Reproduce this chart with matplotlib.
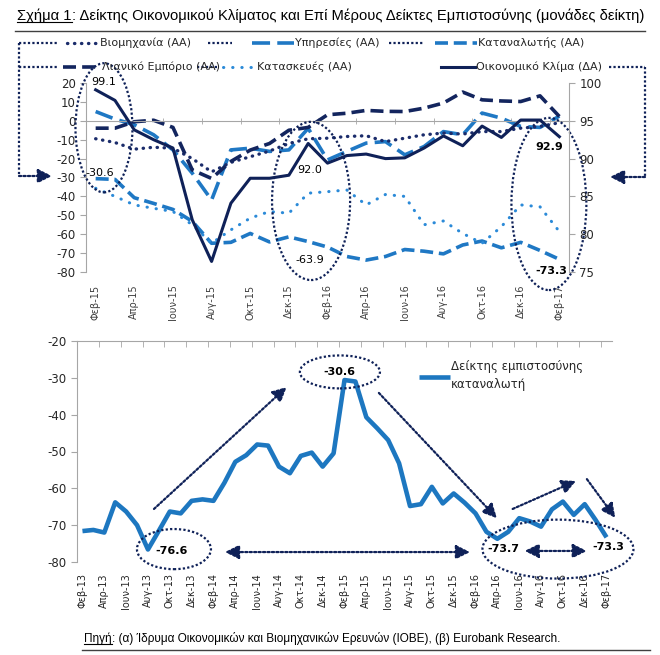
import matplotlib
matplotlib.use("Agg")
import matplotlib.pyplot as plt
from matplotlib.patches import Ellipse, FancyArrowPatch
from matplotlib.lines import Line2D
import numpy as np

# ---- data: top chart (Feb-15 .. Feb-17) ----
top_labels = ["Φεβ-15", "Απρ-15", "Ιουν-15", "Αυγ-15", "Οκτ-15", "Δεκ-15", "Φεβ-16",
              "Απρ-16", "Ιουν-16", "Αυγ-16", "Οκτ-16", "Δεκ-16", "Φεβ-17"]
industry = [-9.5, -11.5, -15, -14, -14.5, -20, -27, -22, -19, -16, -12, -9.5, -9.2,
            -8.3, -7.9, -11, -9.2, -7.4, -6.5, -7, -5.7, -5.7, -3.9, -3, -1]
services = [4.9, 0.9, -2.1, -7.4, -15.4, -27.7, -41.9, -15.4, -14.5, -16.2, -15.4, -4,
            -20.7, -16.2, -11.8, -11, -18, -13.6, -5.7, -7.4, 4.1, 1.4, -3, -3.5, 2.5]
retail = [-3.9, -3.9, -0.5, 0.3, -3.5, -26, -30.5, -21.5, -15.5, -12, -5, -3.5, 3.2,
          4.0, 5.5, 5.0, 4.9, 6.7, 9.4, 15.2, 11.1, 10.5, 10.2, 13.2, 2.3]
construction = [-35.7, -40, -44.5, -46.3, -48, -55, -64.8, -57.7, -51.5, -48, -48.9, -38.3,
                -37.5, -36.6, -44.5, -39, -40, -55, -53, -59.6, -64.8, -56, -44.5, -45.5, -58.6]
climate = [99.1, 97.7, 93.8, 92.5, 91.4, 81.9, 76.4, 84.1, 87.4, 87.4, 87.8, 92.0, 89.4,
           90.4, 90.6, 90.0, 90.1, 91.4, 93.0, 91.7, 94.3, 92.8, 95.1, 95.1, 92.9]

# ---- data: bottom chart, consumer confidence (Feb-13 .. Feb-17) ----
bottom_labels = ["Φεβ-13", "Απρ-13", "Ιουν-13", "Αυγ-13", "Οκτ-13", "Δεκ-13",
                 "Φεβ-14", "Απρ-14", "Ιουν-14", "Αυγ-14", "Οκτ-14", "Δεκ-14",
                 "Φεβ-15", "Απρ-15", "Ιουν-15", "Αυγ-15", "Οκτ-15", "Δεκ-15",
                 "Φεβ-16", "Απρ-16", "Ιουν-16", "Αυγ-16", "Οκτ-16", "Δεκ-16", "Φεβ-17"]
consumer = [-71.6, -71.3, -72, -63.8, -66.3, -70, -76.6, -71.5, -66.3, -66.8, -63.4, -63,
            -63.4, -58.5, -52.8, -51, -48.1, -48.4, -54.1, -55.9, -51.2, -50.3, -54.1, -50.5,
            -30.6, -31, -40.7, -43.7, -46.9, -53.2, -64.8, -64.3, -59.6, -64.1, -61.4, -63.9,
            -66.8, -71.8, -73.7, -71.8, -68.1, -69, -70.4, -65.7, -63.6, -67.2, -64.3, -68.6, -73.3]
consumer_top = consumer[24:]

W, H = 660, 655
NAVY = "#0F2158"
GRAY = "#A6A6A6"
TXT = "#262626"
plt.rcParams["font.family"] = ["DejaVu Sans"]
plt.rcParams["axes.unicode_minus"] = False
NARROW = ["Liberation Sans", "DejaVu Sans"]

styles = {
    "ind": dict(color="#1B2C6B", lw=2.4, ls=(0, (0.1, 2.0)), dash_capstyle="round"),
    "srv": dict(color="#1F78C4", lw=2.6, ls=(0, (5, 2))),
    "con": dict(color="#1F78C4", lw=2.6, ls=(0, (3.6, 1.6))),
    "ret": dict(color="#13255E", lw=2.6, ls=(0, (3.6, 1.7))),
    "cst": dict(color="#2B8AD8", lw=2.2, ls=(0, (0.1, 2.9)), dash_capstyle="round"),
    "clm": dict(color=NAVY, lw=2.2, ls="-"),
}


def fx(x, y):
    return (x / W, 1 - y / H)


fig = plt.figure(figsize=(W / 100, H / 100), dpi=100)

# ---------------- top chart ----------------
ax = fig.add_axes([86 / W, 1 - 272 / H, 483 / W, 189 / H])
ax2 = ax.twinx()
t = np.arange(len(climate))
ax.plot(t, consumer_top, **styles["con"])
ax.plot(t, construction, **styles["cst"])
ax.plot(t, services, **styles["srv"])
ax.plot(t, industry, **styles["ind"])
ax.plot(t, retail, **styles["ret"])
ax2.plot(t, climate, **styles["clm"])

ax.set_xlim(-0.5, len(t) - 0.5)
ax.set_ylim(-80, 20)
ax.set_yticks(range(-80, 21, 10))
ax2.set_ylim(75, 100)
ax2.set_yticks(range(75, 101, 5))
for s in ["right", "bottom"]:
    ax.spines[s].set_visible(False)
ax.spines["top"].set_position(("data", 0))
for s in ["left", "top"]:
    ax.spines[s].set_color(GRAY)
for s in ["left", "top", "bottom"]:
    ax2.spines[s].set_visible(False)
ax2.spines["right"].set_color(GRAY)

ax.set_xticks(t[::2])
ax.set_xticklabels(top_labels, rotation=90, fontsize=7, color="#404040")
ax.set_xticks(np.arange(-0.5, len(t), 2), minor=True)
ax.tick_params(axis="x", which="major", length=0, pad=9)
ax.tick_params(axis="x", which="minor", bottom=False, top=True, length=5,
               direction="inout", color=GRAY)
ax.tick_params(axis="y", labelsize=8.5, color=GRAY, length=4, labelcolor=TXT)
ax2.tick_params(axis="y", labelsize=8.5, color=GRAY, length=4, labelcolor=TXT)


def ell(a, cx, cy, w, h):
    a.add_patch(Ellipse((cx, cy), w, h, fill=False, ec=NAVY, lw=1.6,
                        ls=(0, (1, 1)), clip_on=False, zorder=6))


ell(ax, 0.43, -3.7, 2.95, 68.3)
ell(ax, 11.15, -42.4, 4.04, 83.7)
ell(ax, 23.46, -44, 3.88, 91.1)
for (x, y, s, wgt) in [(0.43, 20.7, "99.1", "normal"), (0.22, -27.5, "-30.6", "normal"),
                       (11.07, -26, "92.0", "normal"), (11.1, -73.6, "-63.9", "normal"),
                       (23.5, -13.8, "92.9", "bold"), (23.6, -79.5, "-73.3", "bold")]:
    ax.text(x, y, s, ha="center", va="center", fontsize=8, fontweight=wgt,
            color="black", zorder=7, clip_on=False)

# ---------------- top legend (manual, Excel-like) ----------------
def seg(x0, x1, y, **kw):
    fig.add_artist(Line2D([x0 / W, x1 / W], [1 - y / H, 1 - y / H], **kw))


deco = dict(color=NAVY, lw=1.6, ls=(0, (1, 1)))
legend_rows = [
    (43, [("ind", 67, 99, "Βιομηχανία (ΑΑ)"), ("srv", 252, 294, "Υπηρεσίες (ΑΑ)"),
          ("con", 435, 477, "Καταναλωτής (ΑΑ)")], [(19, 59), (208, 232), (389, 424)]),
    (67, [("ret", 63, 101, "Λιανικό Εμπόριο (ΑΑ)"), ("cst", 223, 256, "Κατασκευές (ΑΑ)"),
          ("clm", 441, 475, "Οικονομικό Κλίμα (ΔΑ)")], [(19, 59), (197, 218), (609, 645)]),
]
for y, entries, decos in legend_rows:
    for x0, x1 in decos:
        seg(x0, x1, y, **deco)
    for key, x0, x1, label in entries:
        seg(x0, x1, y, **styles[key])
        fig.text(x1 / W + 1 / W, 1 - y / H, label, fontsize=8, color=TXT,
                 va="center", ha="left")

# side brackets with arrows
fig.add_artist(Line2D([19 / W, 19 / W], [1 - 43 / H, 1 - 176 / H], **deco))
fig.add_artist(Line2D([645 / W, 645 / W], [1 - 67 / H, 1 - 177 / H], **deco))
arrow_kw = dict(arrowstyle="-|>,head_length=0.7,head_width=0.35", color=NAVY, lw=1.6,
                ls=(0, (1, 1)), shrinkA=0, shrinkB=0)
fig.add_artist(FancyArrowPatch(fx(19, 176), fx(52, 176), transform=fig.transFigure,
                               mutation_scale=12, **arrow_kw))
fig.add_artist(FancyArrowPatch(fx(645, 177), fx(610, 177), transform=fig.transFigure,
                               mutation_scale=12, **arrow_kw))

# ---------------- bottom chart ----------------
axb = fig.add_axes([77 / W, 1 - 562 / H, 535 / W, 221 / H])
tb = np.arange(len(consumer))
axb.plot(tb, consumer, color="#1D77C0", lw=3.3, solid_joinstyle="round",
         solid_capstyle="butt", label="Δείκτης εμπιστοσύνης\nκαταναλωτή")
axb.set_xlim(-0.5, len(tb) - 0.5)
axb.set_ylim(-80, -20)
axb.set_yticks(range(-80, -19, 10))
for s in ["right", "bottom"]:
    axb.spines[s].set_visible(False)
for s in ["left", "top"]:
    axb.spines[s].set_color(GRAY)
axb.set_xticks(tb[::2])
axb.set_xticklabels(bottom_labels, rotation=90, fontsize=7, color=TXT)
axb.set_xticks(np.arange(-0.5, len(tb), 2), minor=True)
axb.tick_params(axis="x", which="major", length=0, pad=8)
axb.tick_params(axis="x", which="minor", bottom=False, top=True, length=4,
                direction="in", color=GRAY)
axb.tick_params(axis="y", labelsize=8.5, color=GRAY, length=4, labelcolor=TXT)

leg = axb.legend(loc="upper left", bbox_to_anchor=(0.62, 0.96), frameon=False, fontsize=8.5,
                 handlelength=2.6, handletextpad=0.1, labelcolor=TXT)
for txt in leg.get_texts():
    txt.set_linespacing(1.5)

ell(axb, 23.58, -28.4, 7.33, 8.96)
ell(axb, 8.38, -76.5, 6.78, 10.9)
ell(axb, 43.55, -76.5, 13.83, 16.0)
for (x, y, s) in [(23.5, -28.4, "-30.6"), (8.2, -77, "-76.6"),
                  (38.56, -76.5, "-73.7"), (48.13, -75.9, "-73.3")]:
    axb.text(x, y, s, ha="center", va="center", fontsize=8, fontweight="bold",
             color="black", zorder=7, clip_on=False)


def darrow(a, p0, p1, both=False):
    style = "<|-|>" if both else "-|>"
    a.annotate("", xy=p1, xytext=p0, annotation_clip=False,
               arrowprops=dict(arrowstyle=style + ",head_length=0.7,head_width=0.35",
                               color=NAVY, lw=1.6, ls=(0, (1, 1)), shrinkA=0, shrinkB=0,
                               mutation_scale=12))


darrow(axb, (6.55, -65.6), (18.7, -32.5))
darrow(axb, (27.15, -34.1), (37.96, -68.1))
darrow(axb, (13.05, -77.3), (35.5, -77.3), both=True)
darrow(axb, (40.5, -77), (46.2, -77), both=True)
darrow(axb, (39.4, -65.6), (45.2, -58))
darrow(axb, (46.2, -57.5), (48.8, -68))


# ---------------- title & footer ----------------
def underlined(x_px, y_px, first, rest, size, width_px):
    # first part underlined, whole line squeezed to the target width
    y = 1 - y_px / H
    t1 = fig.text(x_px / W, y, first, fontsize=size, family=NARROW, va="baseline")
    t2 = fig.text(0, y, rest, fontsize=size, family=NARROW, va="baseline")
    r = fig.canvas.get_renderer()
    total = t1.get_window_extent(r).width + t2.get_window_extent(r).width
    size = size * width_px / total
    t1.set_fontsize(size)
    t2.set_fontsize(size)
    bb = t1.get_window_extent(r)
    t2.set_x(bb.x1 / W)
    fig.add_artist(Line2D([bb.x0 / W, bb.x1 / W], [1 - (y_px + 2) / H] * 2,
                          color="black", lw=0.8))


underlined(17, 20, "Σχήμα 1", ": Δείκτης Οικονομικού Κλίματος και Επί Μέρους Δείκτες "
           "Εμπιστοσύνης (μονάδες δείκτη)", 12, 626)
seg(15, 645, 31, color="#404040", lw=1.0)
underlined(84, 642, "Πηγή", ": (α) Ίδρυμα Οικονομικών και Βιομηχανικών Ερευνών (ΙΟΒΕ), "
           "(β) Eurobank Research.", 9.5, 476)
seg(82, 650, 650, color="#404040", lw=1.0)

fig.savefig("out.png", dpi=100)
